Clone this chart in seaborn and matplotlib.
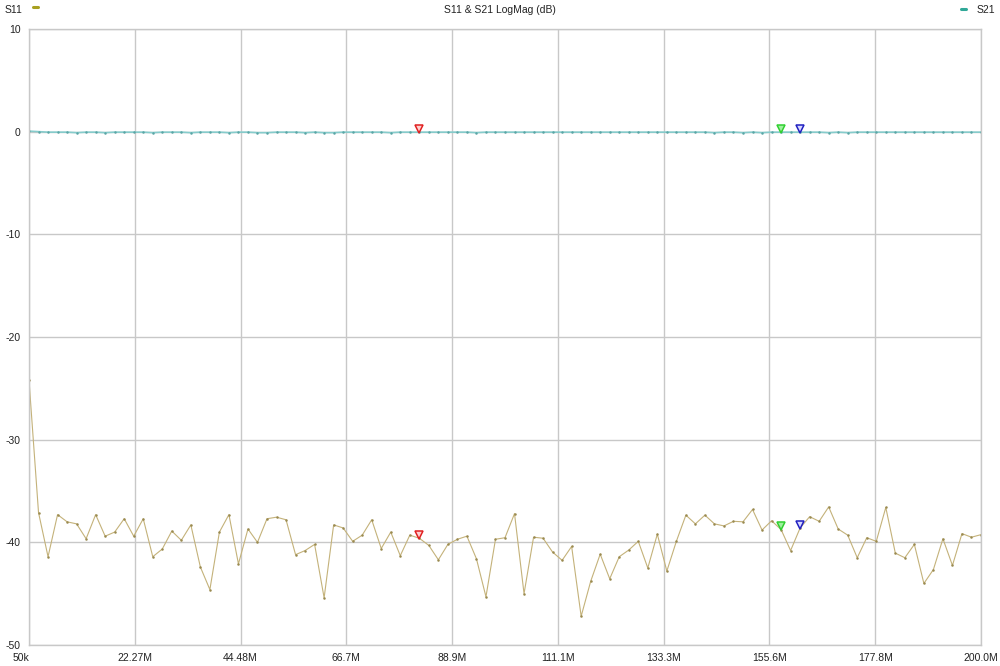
import numpy as np
import pandas as pd
import matplotlib
matplotlib.use("Agg")
import matplotlib.pyplot as plt
from matplotlib.lines import Line2D
import seaborn as sns

# sweep: 101 points, 50 kHz .. 200 MHz (values in MHz)
start_mhz = 0.05
stop_mhz = 200.0
n_points = 101

s11_db = [-24.2, -37.1, -41.4, -37.3, -38.0, -38.2, -39.65, -37.3, -39.4, -39.0,
          -37.7, -39.4, -37.7, -41.4, -40.65, -38.9, -39.8, -38.3, -42.4, -44.6,
          -39.0, -37.3, -42.1, -38.7, -40.0, -37.7, -37.55, -37.8, -41.2, -40.8,
          -40.2, -45.4, -38.3, -38.6, -39.9, -39.3, -37.8, -40.6, -39.0, -41.3,
          -39.3, -39.6, -40.3, -41.7, -40.2, -39.7, -39.4, -41.6, -45.3, -39.7,
          -39.55, -37.2, -45.0, -39.5, -39.6, -40.95, -41.75, -40.4, -47.2, -43.8,
          -41.15, -43.55, -41.4, -40.75, -39.9, -42.5, -39.2, -42.8, -39.9, -37.35,
          -38.2, -37.35, -38.2, -38.4, -37.95, -38.0, -36.8, -38.8, -37.9, -38.75,
          -40.8, -38.6, -37.5, -37.95, -36.55, -38.7, -39.3, -41.5, -39.55, -39.9,
          -36.6, -41.05, -41.5, -40.2, -44.0, -42.65, -39.65, -42.25, -39.15, -39.5,
          -39.25]

s21_db = [0.05, 0.0, -0.05, -0.05, -0.05, -0.1, -0.05, -0.05, -0.1, -0.05,
          -0.05, -0.05, -0.05, -0.1, -0.05, -0.05, -0.05, -0.1, -0.05, -0.05,
          -0.05, -0.1, -0.05, -0.05, -0.1, -0.1, -0.05, -0.05, -0.05, -0.1,
          -0.05, -0.1, -0.1, -0.05, -0.05, -0.05, -0.05, -0.05, -0.1, -0.05,
          -0.05, -0.05, -0.05, -0.05, -0.05, -0.05, -0.05, -0.1, -0.05, -0.05,
          -0.05, -0.05, -0.05, -0.05, -0.05, -0.05, -0.05, -0.05, -0.05, -0.05,
          -0.05, -0.05, -0.05, -0.05, -0.05, -0.05, -0.05, -0.05, -0.05, -0.05,
          -0.05, -0.05, -0.1, -0.05, -0.05, -0.1, -0.05, -0.1, -0.05, -0.05,
          -0.05, -0.05, -0.05, -0.05, -0.1, -0.05, -0.1, -0.05, -0.05, -0.05,
          -0.05, -0.05, -0.05, -0.05, -0.05, -0.05, -0.05, -0.05, -0.05, -0.05,
          -0.05]

# marker point indices and colours
marker_idx = [41, 79, 81]
marker_colors = ["#e02020", "#30d030", "#2020c0"]
marker_faces = ["#ffd0d0", "#a0f0a0", "#d8d8ff"]

x_tick_labels = ["50k", "22.27M", "44.48M", "66.7M", "88.9M",
                 "111.1M", "133.3M", "155.6M", "177.8M", "200.0M"]
y_ticks = [10, 0, -10, -20, -30, -40, -50]

freq = np.linspace(start_mhz, stop_mhz, n_points)
df = pd.DataFrame({"freq": freq, "S11": s11_db, "S21": s21_db})

sns.set_style("white")
plt.rcParams["font.family"] = ["Liberation Sans", "DejaVu Sans"]

fig = plt.figure(figsize=(10, 6.66), dpi=100)
ax = fig.add_axes([0.029, 0.0315, 0.952, 0.925])

s11_col = "#c4b27a"
s21_col = "#86cccc"

sns.lineplot(data=df, x="freq", y="S11", ax=ax, color=s11_col, linewidth=0.8,
             marker="o", markersize=1.8, markeredgewidth=0,
             markerfacecolor="#9a8a50")
sns.lineplot(data=df, x="freq", y="S21", ax=ax, color=s21_col, linewidth=1.2,
             marker="o", markersize=1.8, markeredgewidth=0,
             markerfacecolor="#5aa6a6")

for idx, c, fc in zip(marker_idx, marker_colors, marker_faces):
    for col in ["S11", "S21"]:
        ax.plot(freq[idx], df[col][idx] + 0.3, marker="v", markersize=5.5,
                markerfacecolor=fc, markeredgecolor=c, markeredgewidth=1.1,
                linestyle="none", zorder=5)

x_ticks = np.linspace(start_mhz, stop_mhz, len(x_tick_labels))
ax.set_xlim(start_mhz, stop_mhz)
ax.set_ylim(-50, 10)
ax.set_xticks(x_ticks)
ax.set_xticklabels(x_tick_labels)
ax.set_yticks(y_ticks)
ax.set_yticklabels([str(v) for v in y_ticks])
ax.tick_params(axis="both", labelsize=7.5, colors="#222222", length=0, pad=6)
ax.get_xticklabels()[0].set_horizontalalignment("right")
ax.set_xlabel("")
ax.set_ylabel("")
ax.grid(True, color="#c8c8c8", linewidth=1.0)
for s in ax.spines.values():
    s.set_color("#c8c8c8")
    s.set_linewidth(1.0)

fig.text(0.5, 0.985, "S11 & S21 LogMag (dB)", ha="center", va="center",
         fontsize=7.5, color="#222222")
fig.text(0.005, 0.985, "S11", ha="left", va="center", fontsize=7.5, color="#222222")
fig.text(0.995, 0.985, "S21", ha="right", va="center", fontsize=7.5, color="#222222")
# small legend bars
fig.add_artist(Line2D([0.033, 0.038], [0.9895, 0.9895], color="#a8a020",
                      linewidth=2.2, transform=fig.transFigure))
fig.add_artist(Line2D([0.961, 0.966], [0.9865, 0.9865], color="#30a898",
                      linewidth=2.2, transform=fig.transFigure))

fig.savefig("out.png", dpi=100, facecolor="white")
